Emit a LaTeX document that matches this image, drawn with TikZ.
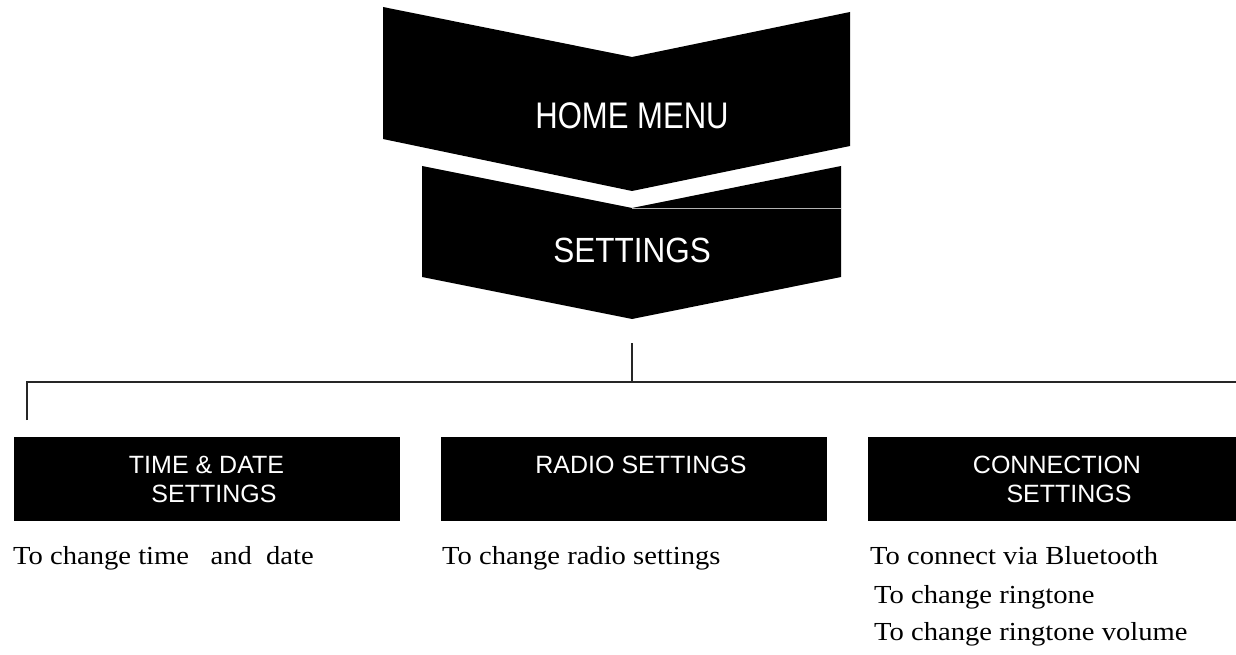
\documentclass[tikz,border=0pt]{standalone}
\usepackage{fontspec}
\setmainfont{Liberation Serif}
\setsansfont{Liberation Sans}
\usepackage{graphicx}
\begin{document}
\begin{tikzpicture}[x=1pt,y=-1pt,
  chev/.style={fill=black},
  box/.style={fill=black, draw=none, inner sep=0pt, minimum width=#1, minimum height=84pt},
  boxtxt/.style={text=white, font=\sffamily\fontsize{25}{28}\selectfont, inner sep=0pt, anchor=base},
  bigtxt/.style={text=white, inner sep=0pt, anchor=base},
  desc/.style={font=\rmfamily\fontsize{26}{30}\selectfont, inner sep=0pt, anchor=base west},
  conn/.style={draw=black!85, line width=1.6pt}]
\useasboundingbox (0,0) rectangle (1236,655);
% chevrons
\fill[chev] (383,7) -- (632,57) -- (850,12) -- (850,146) -- (632,191) -- (383,139) -- cycle;
\fill[chev] (422,166) -- (632,208) -- (841,166) -- (841,277) -- (632,319) -- (422,277) -- cycle;
\draw[gray!60, line width=0.6pt] (632,208) -- (841,208);
\node[bigtxt] (home) at (632,129) {\sffamily\fontsize{37}{40}\selectfont\scalebox{0.84}[1]{HOME MENU}};
\node[bigtxt] (settings) at (632,262) {\sffamily\fontsize{35}{38}\selectfont\scalebox{0.9}[1]{SETTINGS}};
% connectors
\coordinate (stop) at (632,343);
\coordinate (junc) at (632,382);
\coordinate (lcorner) at (27,382);
\coordinate (ldrop) at (27,420);
\coordinate (rend) at (1236,382);
\draw[conn] (stop) -- (junc);
\draw[conn] (ldrop) -- (lcorner) -- (rend);
% boxes
\node[box=386pt] (tbox) at (207,479) {};
\node[box=386pt] (rbox) at (634,479) {};
\node[box=368pt] (cbox) at (1052,479) {};
\node[boxtxt] (t1) at (206.5,473) {TIME \& DATE};
\node[boxtxt] (t2) at (214,502) {SETTINGS};
\node[boxtxt] (r1) at (641,473) {RADIO SETTINGS};
\node[boxtxt] (c1) at (1057,473) {CONNECTION};
\node[boxtxt] (c2) at (1069,502) {SETTINGS};
% descriptions
\node[desc] (d1) at (13,564) {\scalebox{1.1}[1]{To change time\ \ \ and\ \ date}};
\node[desc] (d2) at (442,564) {\scalebox{1.1}[1]{To change radio settings}};
\node[desc] (d3) at (870,564) {\scalebox{1.1}[1]{To connect via Bluetooth}};
\node[desc] (d4) at (874,603) {\scalebox{1.1}[1]{To change ringtone}};
\node[desc] (d5) at (874,640) {\scalebox{1.1}[1]{To change ringtone volume}};
\end{tikzpicture}
\end{document}
